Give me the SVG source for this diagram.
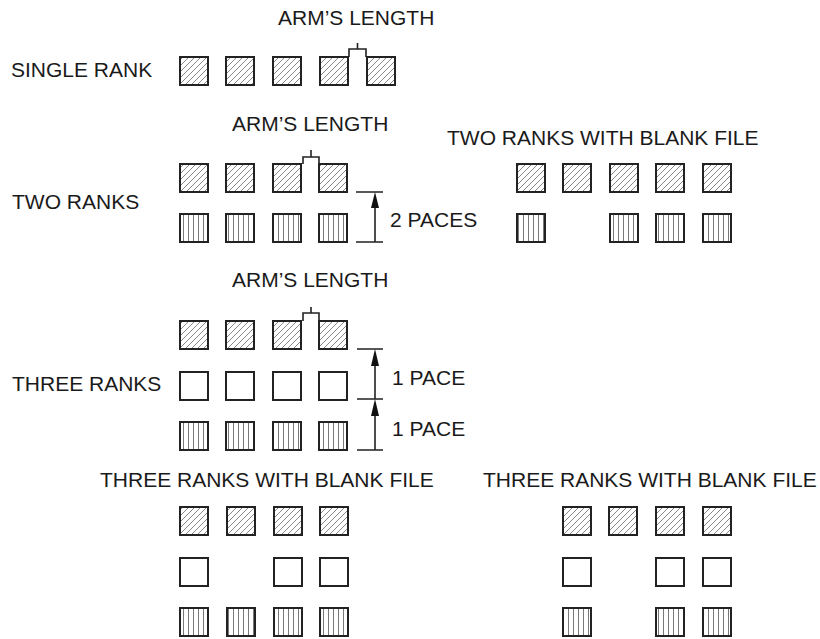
<svg xmlns="http://www.w3.org/2000/svg" width="820" height="639" viewBox="0 0 820 639">
<defs>
<pattern id="diag" patternUnits="userSpaceOnUse" width="6" height="6">
<path d="M0,6 L6,0 M-1.5,1.5 L1.5,-1.5 M4.5,7.5 L7.5,4.5" stroke="#7a7a7a" stroke-width="0.9" fill="none"/>
</pattern>
<pattern id="vert" patternUnits="userSpaceOnUse" width="5" height="5" x="1">
<path d="M2.5,0 L2.5,5" stroke="#6a6a6a" stroke-width="0.9" fill="none"/>
</pattern>
<style>
text{font-family:"Liberation Sans",Arial,sans-serif;font-size:21px;fill:#1a1a1a}
.s{stroke:#222;stroke-width:2}
.d{fill:url(#diag)}
.v{fill:url(#vert)}
.e{fill:#fff}
.ln{stroke:#222;stroke-width:1.6;fill:none}
.ar{fill:#111}
</style>
</defs>

<g id="labels">
<text x="278" y="25">ARM’S LENGTH</text>
<text x="11" y="77">SINGLE RANK</text>
<text x="232" y="131">ARM’S LENGTH</text>
<text x="447" y="145">TWO RANKS WITH BLANK FILE</text>
<text x="12" y="209">TWO RANKS</text>
<text x="390" y="227">2 PACES</text>
<text x="232" y="287">ARM’S LENGTH</text>
<text x="12" y="391">THREE RANKS</text>
<text x="392" y="385">1 PACE</text>
<text x="392" y="436">1 PACE</text>
<text x="100" y="487">THREE RANKS WITH BLANK FILE</text>
<text x="483" y="487">THREE RANKS WITH BLANK FILE</text>
</g>

<g id="single-rank">
<rect class="s d" x="180" y="57" width="28" height="28"/>
<rect class="s d" x="226" y="57" width="28" height="28"/>
<rect class="s d" x="273" y="57" width="28" height="28"/>
<rect class="s d" x="320" y="57" width="28" height="28"/>
<rect class="s d" x="367" y="57" width="28" height="28"/>
</g>

<g id="two-ranks">
<rect class="s d" x="180" y="164" width="28" height="28"/>
<rect class="s d" x="226" y="164" width="28" height="28"/>
<rect class="s d" x="273" y="164" width="28" height="28"/>
<rect class="s d" x="319" y="164" width="28" height="28"/>
<rect class="s v" x="180" y="214" width="28" height="28"/>
<rect class="s v" x="226" y="214" width="28" height="28"/>
<rect class="s v" x="273" y="214" width="28" height="28"/>
<rect class="s v" x="319" y="214" width="28" height="28"/>
</g>

<g id="two-ranks-blank-file">
<rect class="s d" x="517" y="164" width="28" height="28"/>
<rect class="s d" x="563" y="164" width="28" height="28"/>
<rect class="s d" x="610" y="164" width="28" height="28"/>
<rect class="s d" x="656" y="164" width="28" height="28"/>
<rect class="s d" x="703" y="164" width="28" height="28"/>
<rect class="s v" x="517" y="214" width="28" height="28"/>
<rect class="s v" x="610" y="214" width="28" height="28"/>
<rect class="s v" x="656" y="214" width="28" height="28"/>
<rect class="s v" x="703" y="214" width="28" height="28"/>
</g>

<g id="three-ranks">
<rect class="s d" x="180" y="321" width="28" height="28"/>
<rect class="s d" x="226" y="321" width="28" height="28"/>
<rect class="s d" x="273" y="321" width="28" height="28"/>
<rect class="s d" x="319" y="321" width="28" height="28"/>
<rect class="s e" x="180" y="372" width="28" height="28"/>
<rect class="s e" x="226" y="372" width="28" height="28"/>
<rect class="s e" x="273" y="372" width="28" height="28"/>
<rect class="s e" x="319" y="372" width="28" height="28"/>
<rect class="s v" x="180" y="422" width="28" height="28"/>
<rect class="s v" x="226" y="422" width="28" height="28"/>
<rect class="s v" x="273" y="422" width="28" height="28"/>
<rect class="s v" x="319" y="422" width="28" height="28"/>
</g>

<g id="three-ranks-blank-file-left">
<rect class="s d" x="180" y="507" width="28" height="28"/>
<rect class="s d" x="227" y="507" width="28" height="28"/>
<rect class="s d" x="274" y="507" width="28" height="28"/>
<rect class="s d" x="320" y="507" width="28" height="28"/>
<rect class="s e" x="180" y="558" width="28" height="28"/>
<rect class="s e" x="274" y="558" width="28" height="28"/>
<rect class="s e" x="320" y="558" width="28" height="28"/>
<rect class="s v" x="180" y="608" width="28" height="28"/>
<rect class="s v" x="227" y="608" width="28" height="28"/>
<rect class="s v" x="274" y="608" width="28" height="28"/>
<rect class="s v" x="320" y="608" width="28" height="28"/>
</g>

<g id="three-ranks-blank-file-right">
<rect class="s d" x="563" y="507" width="28" height="28"/>
<rect class="s d" x="609" y="507" width="28" height="28"/>
<rect class="s d" x="656" y="507" width="28" height="28"/>
<rect class="s d" x="703" y="507" width="28" height="28"/>
<rect class="s e" x="563" y="558" width="28" height="28"/>
<rect class="s e" x="656" y="558" width="28" height="28"/>
<rect class="s e" x="703" y="558" width="28" height="28"/>
<rect class="s v" x="563" y="608" width="28" height="28"/>
<rect class="s v" x="656" y="608" width="28" height="28"/>
<rect class="s v" x="703" y="608" width="28" height="28"/>
</g>

<g id="connectors">
<path class="ln" d="M349,57 V49 H366 V57 M357.5,49 V43"/>
<path class="ln" d="M303,164 V157 H319 V164 M311,157 V150"/>
<path class="ln" d="M303,321 V313 H319 V321 M311,313 V307"/>
<path class="ln" d="M356,192 H383 M356,242 H383 M375,200 V242"/>
<polygon class="ar" points="375,192 371,208 379,208"/>
<path class="ln" d="M357,349 H383 M357,399 H383 M357,450 H383 M375,360 V399 M375,410 V450"/>
<polygon class="ar" points="375,349 371,366 379,366"/>
<polygon class="ar" points="375,399 371,416 379,416"/>
</g>
</svg>
